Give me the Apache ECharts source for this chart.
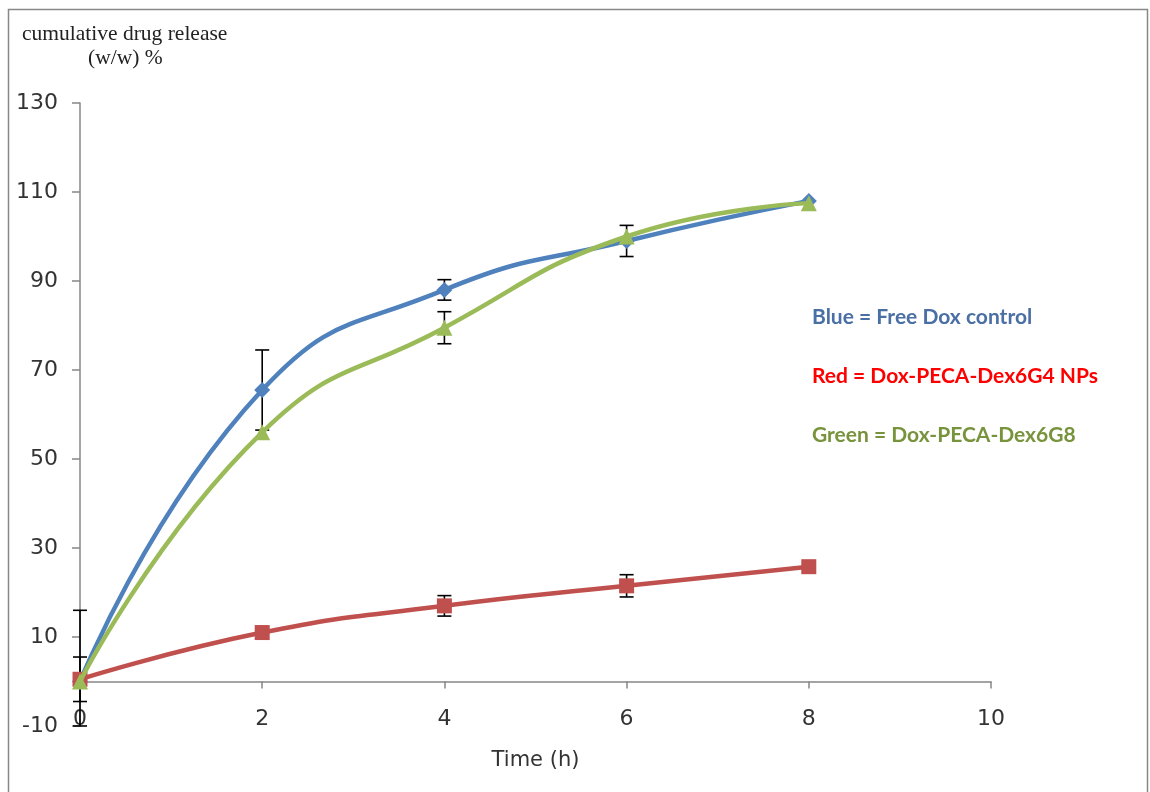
<!DOCTYPE html>
<html>
<head>
<meta charset="utf-8">
<script src="https://cdn.jsdelivr.net/npm/echarts@6/dist/echarts.min.js"></script>
<style>html,body{margin:0;padding:0;background:#fff}#c{width:1150px;height:792px}</style>
</head>
<body>
<div id="c"></div>
<script>
const times = [0, 2, 4, 6, 8];
const blueVals = [0, 65.5, 88, 99, 108];
const redVals = [0.5, 11, 17, 21.5, 25.8];
const greenVals = [0, 56, 79.5, 100, 107.5];
const blueErr = [16, 9, 2.3, 3.5, 0];
const redErr = [5, 0, 2.3, 2.5, 0];
const greenErr = [0, 0, 3.6, 0, 0];
const yTitle = ['cumulative drug release', '(w/w) %'];
const xTitle = 'Time (h)';
const legendTexts = ['Blue = Free Dox control', 'Red = Dox-PECA-Dex6G4 NPs', 'Green = Dox-PECA-Dex6G8'];

const pairs = v => times.map((t, i) => [t, v[i]]);
const errData = [];
[[blueVals, blueErr], [redVals, redErr], [greenVals, greenErr]].forEach(([v, e]) => {
  times.forEach((t, i) => { if (e[i] > 0) errData.push([t, Math.max(-10, v[i] - e[i]), v[i] + e[i]]); });
});

const chart = echarts.init(document.getElementById('c'));
const axisCol = '#868686';
const labelFont = { fontFamily: 'DejaVu Sans', fontSize: 22, color: '#333' };
chart.setOption({
  animation: false,
  grid: { left: 80, right: 159, top: 103, bottom: 66, outerBoundsMode: 'none', containLabel: false },
  xAxis: {
    type: 'value', min: 0, max: 10, interval: 2,
    axisLine: { onZero: true, lineStyle: { color: axisCol, width: 1.5 } },
    axisTick: { inside: false, length: 7, lineStyle: { color: axisCol, width: 1.5 } },
    axisLabel: Object.assign({ margin: -18 }, labelFont),
    splitLine: { show: false },
    name: xTitle, nameLocation: 'middle', nameGap: 24,
    nameTextStyle: { fontFamily: 'DejaVu Sans', fontSize: 21, color: '#333', verticalAlign: 'top' }
  },
  yAxis: {
    type: 'value', min: -10, max: 130, interval: 20,
    axisLine: { show: true, lineStyle: { color: axisCol, width: 1.5 } },
    axisTick: { show: true, length: 8, lineStyle: { color: axisCol, width: 1.5 } },
    axisLabel: Object.assign({ margin: 22 }, labelFont),
    splitLine: { show: false }
  },
  series: [
    {
      type: 'custom', z: 1, data: errData,
      renderItem: (params, api) => {
        const x = api.value(0);
        const lo = api.coord([x, api.value(1)]);
        const hi = api.coord([x, api.value(2)]);
        const w = 7;
        const st = { stroke: '#000', lineWidth: 1.6 };
        return { type: 'group', children: [
          { type: 'line', shape: { x1: lo[0], y1: lo[1], x2: hi[0], y2: hi[1] }, style: st },
          { type: 'line', shape: { x1: lo[0] - w, y1: lo[1], x2: lo[0] + w, y2: lo[1] }, style: st },
          { type: 'line', shape: { x1: hi[0] - w, y1: hi[1], x2: hi[0] + w, y2: hi[1] }, style: st }
        ] };
      }
    },
    {
      type: 'line', name: 'Blue', data: pairs(blueVals), smooth: true, z: 3,
      symbol: 'diamond', symbolSize: 16,
      lineStyle: { color: '#4F81BD', width: 4.5 }, itemStyle: { color: '#4F81BD' }
    },
    {
      type: 'line', name: 'Red', data: pairs(redVals), smooth: true, z: 3,
      symbol: 'rect', symbolSize: 15,
      lineStyle: { color: '#C0504D', width: 4.5 }, itemStyle: { color: '#C0504D' }
    },
    {
      type: 'line', name: 'Green', data: pairs(greenVals), smooth: true, z: 4,
      symbol: 'triangle', symbolSize: 16,
      lineStyle: { color: '#9BBB59', width: 4.5 }, itemStyle: { color: '#9BBB59' }
    }
  ],
  graphic: [
    { type: 'rect', shape: { x: 8.5, y: 9.5, width: 1139, height: 800 }, style: { fill: 'none', stroke: '#888', lineWidth: 1.5 }, silent: true },
    { type: 'text', left: 22, top: 23, style: { text: yTitle[0], font: '21.5px "Liberation Serif"', fill: '#222' } },
    { type: 'text', left: 88, top: 47, style: { text: yTitle[1], font: '21.5px "Liberation Serif"', fill: '#222' } },
    { type: 'text', left: 812, top: 307, style: { text: legendTexts[0], font: 'bold 21px Lato', fill: '#4A6FA5' } },
    { type: 'text', left: 812, top: 366, style: { text: legendTexts[1], font: 'bold 21px Lato', fill: '#FF0000' } },
    { type: 'text', left: 812, top: 425, style: { text: legendTexts[2], font: 'bold 21px Lato', fill: '#77933C' } }
  ]
});
</script>
</body>
</html>
